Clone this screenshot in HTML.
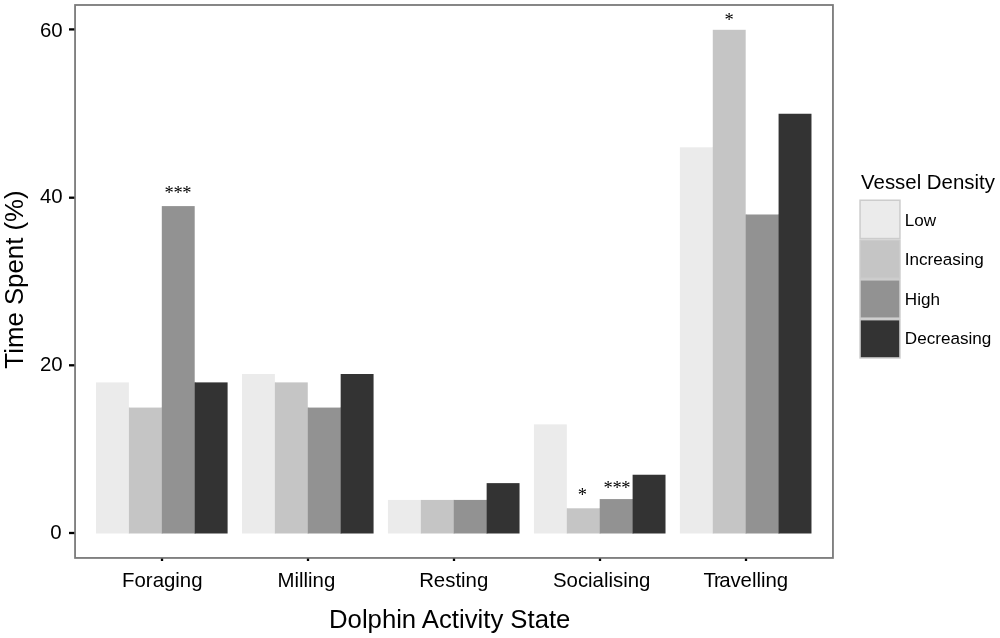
<!DOCTYPE html>
<html lang="en"><head><meta charset="utf-8">
<title>Dolphin Activity State vs Vessel Density</title>
<style>
html,body{margin:0;padding:0;background:#fff;}
body{width:1000px;height:638px;overflow:hidden;}
svg{display:block;will-change:transform;transform:translateZ(0);}
text{font-family:"Liberation Sans", sans-serif;fill:#000;}
.tick{font-size:20.4px;}
.xt{font-size:25.7px;}
.yt{font-size:25.8px;}
.lt{font-size:20.4px;}
.ll{font-size:17.1px;}
.star{font-size:18.5px;letter-spacing:-0.45px;font-family:"Liberation Serif", serif;}
</style></head><body>
<svg width="1000" height="638" viewBox="0 0 1000 638">
<rect x="0" y="0" width="1000" height="638" fill="#ffffff"/>
<g>
<rect x="96.00" y="382.39" width="32.90" height="151.11" fill="#ebebeb"/>
<rect x="128.40" y="407.57" width="1.5" height="125.93" fill="#ebebeb"/>
<rect x="128.90" y="407.57" width="32.90" height="125.93" fill="#c5c5c5"/>
<rect x="161.30" y="407.57" width="1.5" height="125.93" fill="#c5c5c5"/>
<rect x="161.80" y="206.10" width="32.90" height="327.40" fill="#929292"/>
<rect x="194.20" y="382.39" width="1.5" height="151.11" fill="#929292"/>
<rect x="194.70" y="382.39" width="32.90" height="151.11" fill="#333333"/>
<rect x="241.97" y="374.00" width="32.90" height="159.50" fill="#ebebeb"/>
<rect x="274.37" y="382.39" width="1.5" height="151.11" fill="#ebebeb"/>
<rect x="274.87" y="382.39" width="32.90" height="151.11" fill="#c5c5c5"/>
<rect x="307.27" y="407.57" width="1.5" height="125.93" fill="#c5c5c5"/>
<rect x="307.77" y="407.57" width="32.90" height="125.93" fill="#929292"/>
<rect x="340.17" y="407.57" width="1.5" height="125.93" fill="#929292"/>
<rect x="340.67" y="374.00" width="32.90" height="159.50" fill="#333333"/>
<rect x="387.94" y="499.92" width="32.90" height="33.58" fill="#ebebeb"/>
<rect x="420.34" y="499.92" width="1.5" height="33.58" fill="#ebebeb"/>
<rect x="420.84" y="499.92" width="32.90" height="33.58" fill="#c5c5c5"/>
<rect x="453.24" y="499.92" width="1.5" height="33.58" fill="#c5c5c5"/>
<rect x="453.74" y="499.92" width="32.90" height="33.58" fill="#929292"/>
<rect x="486.14" y="499.92" width="1.5" height="33.58" fill="#929292"/>
<rect x="486.64" y="483.13" width="32.90" height="50.37" fill="#333333"/>
<rect x="533.91" y="424.37" width="32.90" height="109.13" fill="#ebebeb"/>
<rect x="566.31" y="508.31" width="1.5" height="25.19" fill="#ebebeb"/>
<rect x="566.81" y="508.31" width="32.90" height="25.19" fill="#c5c5c5"/>
<rect x="599.21" y="508.31" width="1.5" height="25.19" fill="#c5c5c5"/>
<rect x="599.71" y="499.08" width="32.90" height="34.42" fill="#929292"/>
<rect x="632.11" y="499.08" width="1.5" height="34.42" fill="#929292"/>
<rect x="632.61" y="474.74" width="32.90" height="58.76" fill="#333333"/>
<rect x="679.88" y="147.33" width="32.90" height="386.17" fill="#ebebeb"/>
<rect x="712.28" y="147.33" width="1.5" height="386.17" fill="#ebebeb"/>
<rect x="712.78" y="29.80" width="32.90" height="503.70" fill="#c5c5c5"/>
<rect x="745.18" y="214.49" width="1.5" height="319.01" fill="#c5c5c5"/>
<rect x="745.68" y="214.49" width="32.90" height="319.01" fill="#929292"/>
<rect x="778.08" y="214.49" width="1.5" height="319.01" fill="#929292"/>
<rect x="778.58" y="113.75" width="32.90" height="419.75" fill="#333333"/>
</g>
<rect x="75.05" y="5.00" width="757.90" height="552.95" fill="none" stroke="#7a7a7a" stroke-width="1.8"/>
<rect x="69" y="531.85" width="5.3" height="2.3" fill="#000"/>
<text class="tick" x="61.7" y="539.00" text-anchor="end">0</text>
<rect x="69" y="364.15" width="5.3" height="2.3" fill="#000"/>
<text class="tick" x="62.7" y="371.20" text-anchor="end">20</text>
<rect x="69" y="196.55" width="5.3" height="2.3" fill="#000"/>
<text class="tick" x="62.7" y="202.70" text-anchor="end">40</text>
<rect x="69" y="28.25" width="5.3" height="2.3" fill="#000"/>
<text class="tick" x="62.7" y="37.20" text-anchor="end">60</text>
<rect x="160.85" y="558.6" width="2.3" height="2.4" fill="#000"/>
<text class="tick" x="162.30" y="587.3" text-anchor="middle">Foraging</text>
<rect x="306.85" y="558.6" width="2.3" height="2.4" fill="#000"/>
<text class="tick" x="306.40" y="587.3" text-anchor="middle">Milling</text>
<rect x="452.85" y="558.6" width="2.3" height="2.4" fill="#000"/>
<text class="tick" x="453.70" y="587.3" text-anchor="middle">Resting</text>
<rect x="598.85" y="558.6" width="2.3" height="2.4" fill="#000"/>
<text class="tick" x="601.70" y="587.3" text-anchor="middle">Socialising</text>
<rect x="744.85" y="558.6" width="2.3" height="2.4" fill="#000"/>
<text class="tick" x="745.90" y="587.3" text-anchor="middle" dx="0 -1.3 -1.4 -0.3">Travelling</text>
<text class="xt" x="449.7" y="627.5" text-anchor="middle">Dolphin Activity State</text>
<text class="yt" transform="translate(22.7 279.5) rotate(-90)" text-anchor="middle">Time Spent (%)</text>
<text class="star" x="177.80" y="198.90" text-anchor="middle">***</text>
<text class="star" x="728.80" y="25.60" text-anchor="middle">*</text>
<text class="star" x="582.20" y="501.30" text-anchor="middle">*</text>
<text class="star" x="616.80" y="494.10" text-anchor="middle">***</text>
<text class="lt" x="861.1" y="188.7">Vessel Density</text>
<rect x="860.05" y="200.25" width="39.90" height="38.30" fill="#ebebeb" stroke="#cccccc" stroke-width="1.5"/>
<text class="ll" x="904.8" y="225.80">Low</text>
<rect x="860.05" y="240.05" width="39.90" height="38.30" fill="#c5c5c5" stroke="#cccccc" stroke-width="1.5"/>
<text class="ll" x="904.8" y="265.40">Increasing</text>
<rect x="860.05" y="279.85" width="39.90" height="38.30" fill="#929292" stroke="#cccccc" stroke-width="1.5"/>
<text class="ll" x="904.8" y="305.20">High</text>
<rect x="860.05" y="319.65" width="39.90" height="38.30" fill="#333333" stroke="#cccccc" stroke-width="1.5"/>
<text class="ll" x="904.8" y="344.20">Decreasing</text>
</svg>
</body></html>
